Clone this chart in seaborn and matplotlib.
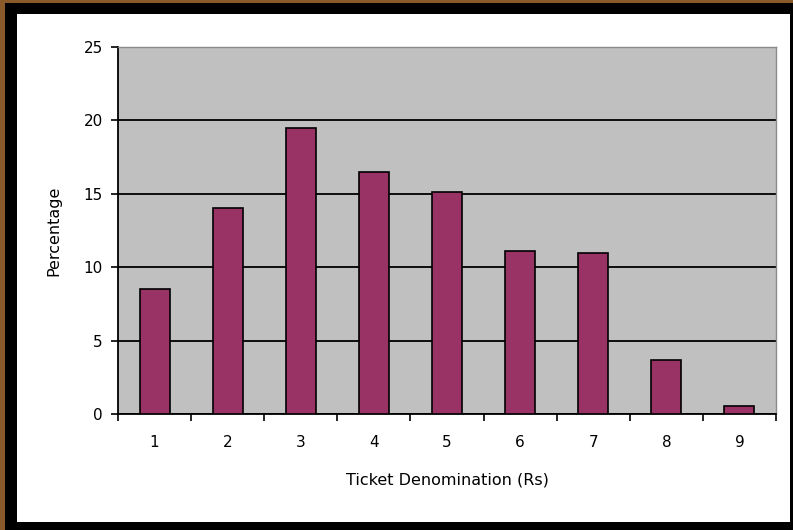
import matplotlib
matplotlib.use("Agg")
import matplotlib.pyplot as plt
import matplotlib.patches as mpatches
import seaborn as sns
import pandas as pd
import numpy as np

denominations = ["1", "2", "3", "4", "5", "6", "7", "8", "9"]
percentages = [8.5, 14.0, 19.45, 16.5, 15.1, 11.1, 11.0, 3.7, 0.55]
y_ticks = [0, 5, 10, 15, 20, 25]

sns.set_style("white")
plt.rcParams["font.family"] = ["DejaVu Sans"]
plt.rcParams["text.color"] = "black"
plt.rcParams["axes.labelcolor"] = "black"
plt.rcParams["xtick.color"] = "black"
plt.rcParams["ytick.color"] = "black"

W, H = 793, 530
fig = plt.figure(figsize=(W / 100, H / 100), dpi=100, facecolor="black")

# outer frame: brown edge, black border, white panel
fig.patches.append(mpatches.Rectangle((0, 0), 5 / W, 1, transform=fig.transFigure,
                                      facecolor="#8B5A2B", edgecolor="none", zorder=-10))
fig.patches.append(mpatches.Rectangle((0, 1 - 2.5 / H), 1, 2.5 / H, transform=fig.transFigure,
                                      facecolor="#8B5A2B", edgecolor="none", zorder=-10))
fig.patches.append(mpatches.Rectangle((17 / W, 1 - 522 / H), (790 - 17) / W, (522 - 14) / H,
                                      transform=fig.transFigure, facecolor="white",
                                      edgecolor="none", zorder=-10))

left, right, top, bottom = 118, 776, 47, 414
ax = fig.add_axes([left / W, 1 - bottom / H, (right - left) / W, (bottom - top) / H])
ax.set_zorder(5)
ax.set_facecolor("#C0C0C0")

df = pd.DataFrame({"Denomination": denominations, "Percentage": percentages})
sns.barplot(data=df, x="Denomination", y="Percentage", order=denominations,
            color="#993366", saturation=1, edgecolor="black", linewidth=1.2,
            width=0.41, ax=ax, zorder=3)

ax.set_xlim(-0.5, len(denominations) - 0.5)
ax.set_ylim(0, 25)
ax.set_yticks(y_ticks)
ax.yaxis.grid(True, color="black", linewidth=1.3, zorder=1)
ax.set_axisbelow(True)

# x tick marks at category boundaries, labels at centers
ax.set_xticks(np.arange(len(denominations)))
ax.set_xticklabels(denominations)
ax.set_xticks(np.arange(-0.5, len(denominations)), minor=True)
ax.tick_params(axis="x", which="major", bottom=True, length=0, pad=15, labelsize=11,
               labelcolor="black")
ax.tick_params(axis="x", which="minor", bottom=True, length=5, width=1.2,
               color="black", direction="out")
ax.tick_params(axis="y", which="major", left=True, length=5, width=1.2, color="black",
               direction="out", pad=6, labelsize=11, labelcolor="black")

for s in ["left", "bottom"]:
    ax.spines[s].set_color("black")
    ax.spines[s].set_linewidth(1.3)
for s in ["top", "right"]:
    ax.spines[s].set_color("#8a8a8a")
    ax.spines[s].set_linewidth(1.0)
    ax.spines[s].set_visible(True)

ax.set_xlabel("Ticket Denomination (Rs)", fontsize=11.5, labelpad=16, color="black")
ax.set_ylabel("Percentage", fontsize=11.5, labelpad=16, color="black")

fig.savefig("out.png", dpi=100, facecolor=fig.get_facecolor())
